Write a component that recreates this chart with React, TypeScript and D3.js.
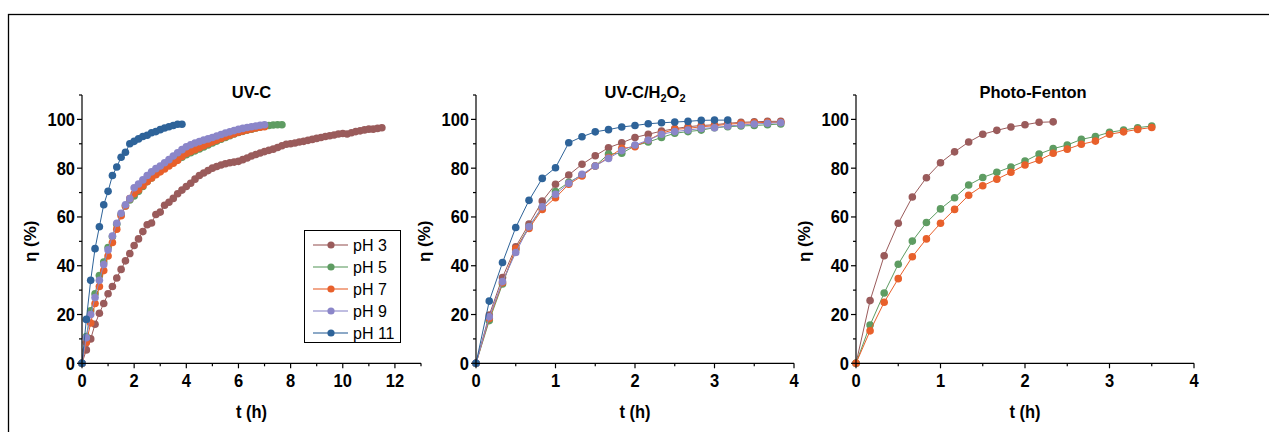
import React from 'react';
import * as d3 from 'd3';

// sampling times in minutes (every point is one sample)
const minutes = [
  0, 10, 20, 30, 40, 50, 60, 70, 80, 90, 100, 110, 120, 130, 140, 150, 160, 170, 180, 190,
  200, 210, 220, 230, 240, 250, 260, 270, 280, 290, 300, 310, 320, 330, 340, 350, 360, 370, 380, 390,
  400, 410, 420, 430, 440, 450, 460, 470, 480, 490, 500, 510, 520, 530, 540, 550, 560, 570, 580, 590,
  600, 610, 620, 630, 640, 650, 660, 670, 680, 690,
];

// UV-C, removal efficiency (%)
const uvcPH3 = [
  0, 5.5, 10, 16, 20.5, 24.5, 28.5, 31.5, 35, 38.5, 42, 45, 48.3, 51, 54, 56.8, 57.5, 61, 62, 64.8,
  66, 67.6, 69.5, 71, 72.5, 73.8, 75.5, 77, 78, 79, 80, 80.7, 81.3, 81.8, 82.2, 82.5, 82.8, 83.5, 84.2, 85,
  85.6, 86.2, 86.8, 87.3, 87.8, 88.5, 89.2, 89.8, 90, 90.3, 90.7, 91, 91.4, 91.8, 92.2, 92.6, 93, 93.3, 93.6, 94,
  94.2, 94, 94.5, 95, 95.3, 95.7, 96, 96, 96.3, 96.6,
];
const uvcPH5 = [
  0, 11, 21.5, 28.5, 36, 41.5, 47.5, 52, 57, 61, 64.5, 67, 68.6, 70.5, 72.5, 74.5, 76, 77.5, 79.5, 80.5,
  81.5, 82.5, 83.5, 84.5, 85.5, 86.3, 87.1, 87.9, 88.7, 89.5, 90.3, 91.1, 91.9, 92.6, 93.3, 94, 94.6, 95.1, 95.6, 96,
  96.5, 96.9, 97.2, 97.5, 97.7, 97.8, 97.8,
];
const uvcPH7 = [
  0, 8.5, 16.5, 24.5, 31.5, 38, 44, 49.5, 55, 60.5, 64.5, 67.5, 69.5, 71, 72.8, 74.5, 76, 77.3, 78.5, 79.7,
  80.9, 82, 83.2, 84.8, 86, 86.8, 87.6, 88.4, 89.2, 90, 90.8, 91.5, 92.2, 92.9, 93.5, 94.1, 94.7, 95.2, 95.7, 96.1,
  96.5, 96.8, 97,
];
const uvcPH9 = [
  0, 10.5, 20, 27, 34, 40.5, 46.5, 52.2, 57.4, 61.5, 65, 67.5, 72, 73.5, 75.2, 77, 78.5, 79.8, 80.9, 82.2,
  83.5, 85, 86.3, 87.6, 88.8, 89.6, 90.3, 90.9, 91.5, 92, 92.6, 93.2, 93.8, 94.4, 94.9, 95.4, 95.9, 96.3, 96.7, 97,
  97.3, 97.6, 97.8,
];
const uvcPH11 = [
  0, 18, 34, 47, 56, 65, 70.5, 77, 80.5, 84.5, 86.5, 90, 91, 92, 93, 93.5, 94.5, 95, 95.8, 96.5,
  97, 97.5, 98, 98,
];

// UV-C/H2O2
const h2o2PH3 = [
  0, 19.8, 35.2, 47.8, 57.1, 66.5, 73.4, 77.2, 81.6, 85.1, 88.4, 90.4, 92.6, 93.9, 95.2, 96.2, 97, 97.5, 97.8, 98.4,
  98.8, 99, 99.2, 99.2,
];
const h2o2PH5 = [
  0, 17.5, 32.5, 46.7, 56, 63.8, 70.4, 74.2, 77.2, 80.9, 85.8, 86.1, 89.2, 90.7, 92.6, 94.3, 95, 95.6, 96.6, 97,
  97.3, 97.5, 97.8, 98.1,
];
const h2o2PH7 = [
  0, 18.4, 33, 47, 55.3, 63.1, 67.9, 73.4, 76.8, 80.9, 84.4, 88.1, 88.8, 91.5, 94.3, 95.9, 96.3, 97, 97.4, 98,
  98.4, 98.6, 98.8, 98.8,
];
const h2o2PH9 = [
  0, 19.1, 33.5, 45.4, 56, 64.2, 69.3, 73.8, 77.5, 80.9, 84, 87.2, 89.5, 91.5, 93.9, 95, 95.6, 96.3, 96.6, 97.3,
  97.7, 98.1, 98.4, 98.6,
];
const h2o2PH11 = [
  0, 25.5, 41.3, 55.7, 66.8, 75.8, 80.2, 90.4, 92.9, 94.9, 95.8, 96.9, 97.5, 98.2, 98.6, 98.9, 99.2, 99.6, 99.7, 99.7,
];

// Photo-Fenton
const fentonPH3 = [0, 25.7, 44.1, 57.4, 68.2, 76.1, 82.2, 86.7, 90.7, 93.9, 95.5, 96.9, 97.8, 98.8, 99];
const fentonPH5 = [
  0, 15.7, 28.8, 40.6, 50.1, 57.7, 63.3, 67.9, 73.1, 76.2, 78.3, 80.5, 82.9, 85.8, 88, 89.5, 91.8, 93, 94.7, 95.6,
  96.6, 97.3,
];
const fentonPH7 = [
  0, 13.3, 25, 34.7, 43.7, 51, 57.4, 63.1, 68.9, 72.8, 75.5, 78.3, 81.3, 83.3, 86.1, 87.8, 89.8, 91.1, 93.9, 94.9,
  95.9, 96.7,
];

const phLabels = ['pH 3', 'pH 5', 'pH 7', 'pH 9', 'pH 11'];
const phColors = ['#9a5b5b', '#5e9c62', '#e8602b', '#8b86c9', '#2e6399'];

const FONT = "'Liberation Sans', Arial, Helvetica, sans-serif";

const panels = [
  { title: 'UV-C', xMax: 13, x0: 82, x1: 421, titleDx: 0, series: [uvcPH3, uvcPH5, uvcPH7, uvcPH9, uvcPH11] },
  { title: 'UV-C/H2O2', xMax: 4, x0: 476, x1: 794, titleDx: 10, series: [h2o2PH3, h2o2PH5, h2o2PH7, h2o2PH9, h2o2PH11] },
  { title: 'Photo-Fenton', xMax: 4, x0: 856, x1: 1194, titleDx: 8, series: [fentonPH3, fentonPH5, fentonPH7] },
];

const y = d3.scaleLinear().domain([0, 110]).range([363.3, 95]);

// bold label, slightly stretched vertically like the original export
const Label = ({ x, y: ty, anchor, children, size = 16.5 }) => (
  <text
    transform={`translate(${x},${ty}) scale(1,1.08)`}
    textAnchor={anchor}
    fontFamily={FONT}
    fontWeight="bold"
    fontSize={size}
  >
    {children}
  </text>
);

const Panel = ({ p, showLegend }) => {
  const x = d3.scaleLinear().domain([0, p.xMax]).range([p.x0, p.x1]);
  const major = x.ticks(p.xMax > 6 ? 7 : p.xMax);
  const minor = x.ticks(p.xMax > 6 ? p.xMax : p.xMax * 2).filter((t) => !major.includes(t));
  const yMajor = y.ticks(6);
  const yMinor = y.ticks(11).filter((t) => !yMajor.includes(t));
  const line = d3
    .line<number>()
    .x((_, i) => x(minutes[i] / 60))
    .y((d) => y(d));
  const cx = (p.x0 + p.x1) / 2;
  const yBase = y(0);

  return (
    <g>
      {p.series.map((vals, si) => (
        <g key={si}>
          <path d={line(vals) || ''} fill="none" stroke={phColors[si]} strokeWidth={1} />
          {vals.map((v, i) => (
            <circle key={i} cx={x(minutes[i] / 60)} cy={y(v)} r={3.8} fill={phColors[si]} />
          ))}
        </g>
      ))}

      {/* axes */}
      <line x1={p.x0} x2={p.x1} y1={yBase} y2={yBase} stroke="#000" strokeWidth={1.2} />
      <line x1={p.x0} x2={p.x0} y1={yBase} y2={y(110)} stroke="#000" strokeWidth={1.2} />
      {major.map((t) => (
        <g key={'xm' + t}>
          <line x1={x(t)} x2={x(t)} y1={yBase} y2={yBase + 5} stroke="#000" strokeWidth={1.2} />
          <Label x={x(t)} y={387} anchor="middle">
            {t}
          </Label>
        </g>
      ))}
      {minor.map((t) => (
        <line key={'xn' + t} x1={x(t)} x2={x(t)} y1={yBase} y2={yBase + 3} stroke="#000" strokeWidth={1.2} />
      ))}
      {yMajor.map((t) => (
        <g key={'ym' + t}>
          <line x1={p.x0 - 5} x2={p.x0} y1={y(t)} y2={y(t)} stroke="#000" strokeWidth={1.2} />
          <Label x={p.x0 - 7} y={y(t) + 6.4} anchor="end">
            {t}
          </Label>
        </g>
      ))}
      {yMinor.map((t) => (
        <line key={'yn' + t} x1={p.x0 - 3} x2={p.x0} y1={y(t)} y2={y(t)} stroke="#000" strokeWidth={1.2} />
      ))}

      {/* titles */}
      <text x={cx + p.titleDx} y={98} textAnchor="middle" fontFamily={FONT} fontWeight="bold" fontSize={16.5}>
        {p.title === 'UV-C/H2O2' ? (
          <>
            UV-C/H<tspan fontSize={11} dy={4}>2</tspan>
            <tspan dy={-4}>O</tspan>
            <tspan fontSize={11} dy={4}>2</tspan>
          </>
        ) : (
          p.title
        )}
      </text>
      <Label x={cx} y={418} anchor="middle">
        t (h)
      </Label>
      <text
        transform={`translate(${p.x0 - 46},${y(50)}) rotate(-90)`}
        textAnchor="middle"
        fontFamily={FONT}
        fontWeight="bold"
        fontSize={17}
      >
        η (%)
      </text>

      {showLegend && (
        <g>
          <rect x={304.5} y={230.5} width={96} height={112} fill="#fff" stroke="#000" strokeWidth={1} />
          {phLabels.map((lab, i) => {
            const ly = 245 + i * 22;
            return (
              <g key={lab}>
                <line x1={313} x2={348} y1={ly} y2={ly} stroke={phColors[i]} strokeOpacity={0.55} strokeWidth={2} />
                <circle cx={331} cy={ly} r={3.6} fill={phColors[i]} />
                <text x={353} y={ly} dy="0.37em" fontFamily={FONT} fontSize={16}>
                  {lab}
                </text>
              </g>
            );
          })}
        </g>
      )}
    </g>
  );
};

export default function App() {
  return (
    <svg
      width={1269}
      height={432}
      style={{ position: 'absolute', left: 0, top: 0, background: '#fff' }}
    >
      <rect x={0} y={0} width={1269} height={432} fill="#fff" />
      <rect x={8.5} y={14.5} width={1400} height={600} fill="none" stroke="#000" strokeWidth={1.3} />
      {panels.map((p, i) => (
        <Panel key={p.title} p={p} showLegend={i === 0} />
      ))}
    </svg>
  );
}
